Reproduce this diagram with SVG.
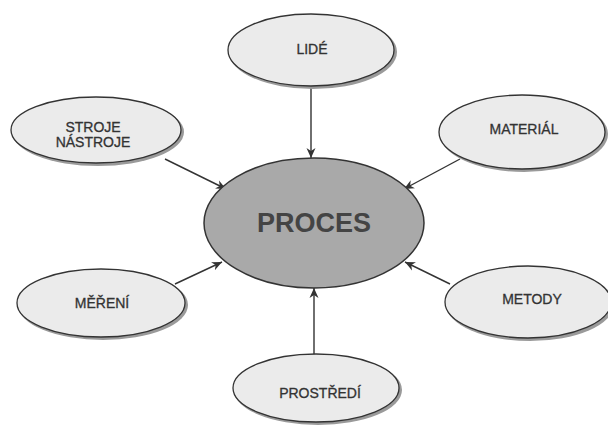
<svg xmlns="http://www.w3.org/2000/svg" width="608" height="426" viewBox="0 0 608 426">
<defs>
<marker id="arr" viewBox="0 0 10 10" refX="10" refY="5" markerWidth="10" markerHeight="10" orient="auto" markerUnits="userSpaceOnUse">
<path d="M0,0.5 L10,5 L0,9.5 L3,5 Z" fill="#333"/>
</marker>
</defs>
<style>
.sh{fill:#9a9a9a;}
.n{fill:#ebebeb;stroke:#333;stroke-width:1.3;}
.c{fill:#a9a9a9;stroke:#333;stroke-width:1.5;}
.t{font-family:"Liberation Sans",Arial,sans-serif;font-size:14px;fill:#333;stroke:#333;stroke-width:0.3;text-anchor:middle;}
.tb{font-family:"Liberation Sans",Arial,sans-serif;font-size:27px;font-weight:bold;fill:#444;text-anchor:middle;}
.l{stroke:#333;stroke-width:1.4;fill:none;marker-end:url(#arr);}
</style>
<rect width="608" height="426" fill="#fff"/>
<g id="connectors">
<line class="l" x1="311" y1="87" x2="311" y2="158"/>
<line class="l" x1="165" y1="159" x2="226" y2="189"/>
<line class="l" x1="460" y1="159" x2="404" y2="189"/>
<line class="l" x1="175" y1="284" x2="222" y2="262"/>
<line class="l" x1="450" y1="284" x2="405" y2="262"/>
<line class="l" x1="314" y1="354" x2="314" y2="288"/>
</g>
<g id="proces">
<ellipse class="c" cx="314" cy="223" rx="110" ry="65"/>
<text class="tb" x="314" y="232">PROCES</text>
</g>
<g id="lide">
<ellipse class="sh" cx="313" cy="52" rx="84" ry="37"/>
<ellipse class="n" cx="311" cy="50" rx="83" ry="36"/>
<text class="t" x="312" y="54">LIDÉ</text>
</g>
<g id="stroje">
<ellipse class="sh" cx="98" cy="132" rx="86" ry="34"/>
<ellipse class="n" cx="96" cy="130" rx="85" ry="33"/>
<text class="t" x="93" y="132">STROJE</text>
<text class="t" x="93" y="147">NÁSTROJE</text>
</g>
<g id="material">
<ellipse class="sh" cx="524" cy="134" rx="84" ry="38"/>
<ellipse class="n" cx="522" cy="132" rx="83" ry="37"/>
<text class="t" x="524" y="134">MATERIÁL</text>
</g>
<g id="mereni">
<ellipse class="sh" cx="103" cy="305" rx="85" ry="35"/>
<ellipse class="n" cx="101" cy="303" rx="84" ry="34"/>
<text class="t" x="102" y="308">MĚŘENÍ</text>
</g>
<g id="metody">
<ellipse class="sh" cx="530" cy="304" rx="84" ry="37"/>
<ellipse class="n" cx="528" cy="302" rx="83" ry="36"/>
<text class="t" x="532" y="304">METODY</text>
</g>
<g id="prostredi">
<ellipse class="sh" cx="318" cy="390" rx="84" ry="35"/>
<ellipse class="n" cx="316" cy="388" rx="83" ry="34"/>
<text class="t" x="320" y="398">PROSTŘEDÍ</text>
</g>
</svg>
